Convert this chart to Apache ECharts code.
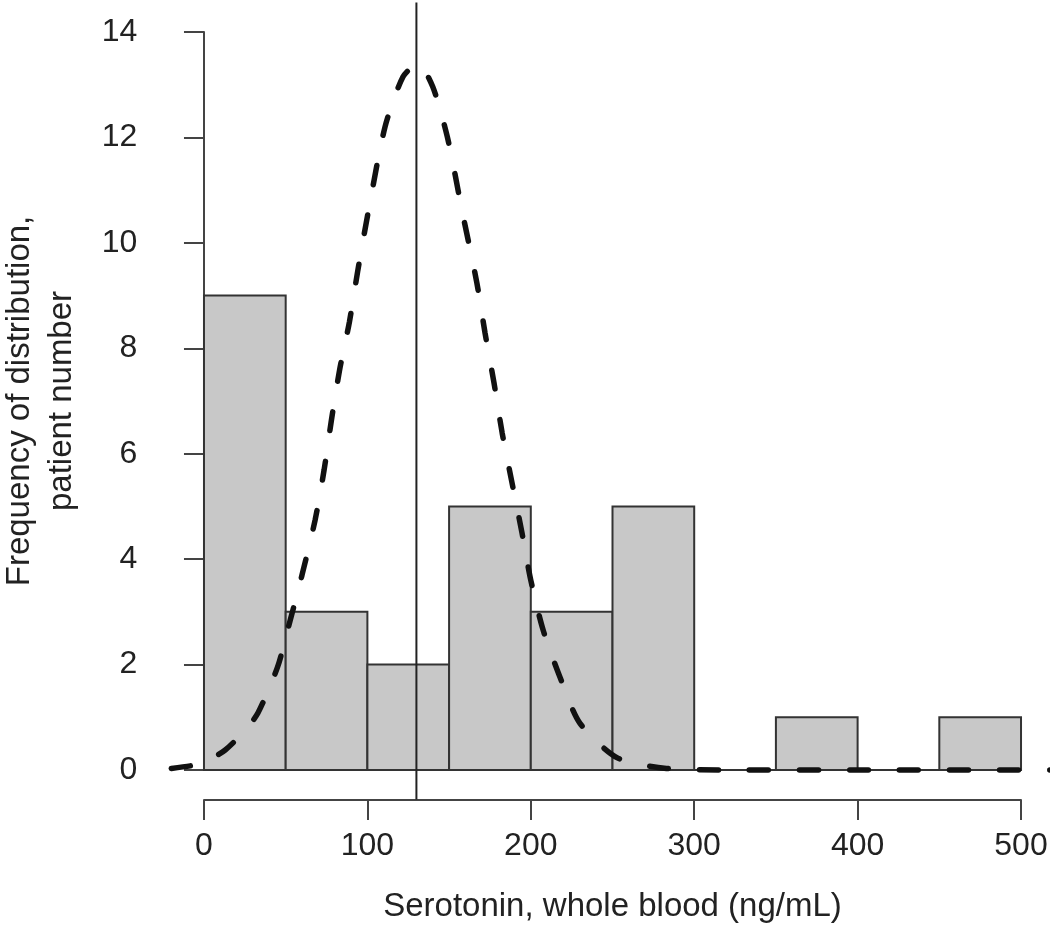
<!DOCTYPE html>
<html>
<head>
<meta charset="utf-8">
<script src="https://cdn.jsdelivr.net/npm/echarts@6/dist/echarts.min.js"></script>
<style>
html,body{margin:0;padding:0;background:#fff;}
#chart{width:1050px;height:929px;}
</style>
</head>
<body>
<div id="chart"></div>
<script>
// Histogram bins (ng/mL) and patient counts
const binStart = [0, 50, 100, 150, 200, 250, 300, 350, 400, 450];
const binEnd   = [50, 100, 150, 200, 250, 300, 350, 400, 450, 500];
const counts   = [9, 3, 2, 5, 3, 5, 0, 1, 0, 1];

// Dashed fitted curve
const curveX = [-20, -8, 0, 13, 25, 33, 45, 52, 60, 68, 73.5, 78, 83, 89, 94, 100, 110.8, 121.8, 131, 140, 149, 158, 167, 172, 177.5, 182.5, 188.5, 194.6, 200, 207.5, 218, 230, 253, 283, 320, 400, 520];
const curveY = [0.03, 0.08, 0.14, 0.38, 0.75, 1.08, 1.95, 2.75, 3.7, 4.74, 5.69, 6.64, 7.59, 8.5, 9.45, 10.5, 12.2, 13.15, 13.4, 12.96, 12.0, 10.6, 9.24, 8.29, 7.34, 6.39, 5.45, 4.5, 3.6, 2.66, 1.75, 0.89, 0.23, 0.03, 0, 0, 0];

// Vertical reference line
const refX = 130;
const refY = [-0.56, 14.56];

// Axis ticks
const xTicks = [0, 100, 200, 300, 400, 500];
const yTicks = [0, 2, 4, 6, 8, 10, 12, 14];

const FONT = '"Liberation Sans", Arial, Helvetica, sans-serif';
const TXT = '#222';
const AX = '#444';

const chart = echarts.init(document.getElementById('chart'), null, {renderer: 'canvas'});

const option = {
  animation: false,
  backgroundColor: '#fff',
  grid: [
    {left: 171.3, right: -3.7, top: 32, bottom: 159, containLabel: false, outerBoundsMode: 'none'},
    {left: 204, right: 29, top: 32, bottom: 129, containLabel: false, outerBoundsMode: 'none'}
  ],
  xAxis: [
    {
      type: 'value', gridIndex: 0, min: -20, max: 520,
      axisLine: {show: false}, axisTick: {show: false}, axisLabel: {show: false}, splitLine: {show: false},
      name: 'Serotonin, whole blood (ng/mL)',
      nameLocation: 'middle', nameGap: 120,
      nameTextStyle: {fontFamily: FONT, fontSize: 33, color: TXT}
    },
    {
      type: 'value', gridIndex: 1, min: xTicks[0], max: xTicks[xTicks.length - 1], interval: 100,
      axisLine: {show: true, lineStyle: {color: AX, width: 2}},
      axisTick: {show: true, inside: false, length: 20, lineStyle: {color: AX, width: 2}},
      axisLabel: {show: true, margin: 30, fontFamily: FONT, fontSize: 32, color: TXT},
      splitLine: {show: false}
    }
  ],
  yAxis: [
    {
      type: 'value', gridIndex: 0, min: yTicks[0], max: yTicks[yTicks.length - 1], interval: 2,
      axisLine: {show: true, lineStyle: {color: AX, width: 2}},
      axisTick: {show: true, inside: false, length: 20, lineStyle: {color: AX, width: 2}},
      axisLabel: {show: true, margin: 34, fontFamily: FONT, fontSize: 32, color: TXT},
      splitLine: {show: false},
      name: 'Frequency of distribution,\npatient number',
      nameLocation: 'middle', nameGap: 88, nameRotate: 90,
      nameTextStyle: {fontFamily: FONT, fontSize: 33, color: TXT, lineHeight: 42, align: 'center'}
    },
    {type: 'value', gridIndex: 1, show: false, min: 0, max: 1}
  ],
  series: [
    {
      type: 'custom',
      xAxisIndex: 0, yAxisIndex: 0,
      data: counts.map((c, i) => [binStart[i], binEnd[i], c]),
      renderItem: function (params, api) {
        const p0 = api.coord([api.value(0), api.value(2)]);
        const p1 = api.coord([api.value(1), 0]);
        return {
          type: 'rect',
          shape: {x: p0[0], y: p0[1], width: p1[0] - p0[0], height: p1[1] - p0[1]},
          style: {fill: '#c8c8c8', stroke: '#333', lineWidth: 2}
        };
      },
      z: 1
    },
    {
      type: 'line',
      xAxisIndex: 0, yAxisIndex: 0,
      data: refY.map(y => [refX, y]),
      symbol: 'none',
      clip: false,
      lineStyle: {color: '#222', width: 2},
      z: 2
    },
    {
      type: 'line',
      xAxisIndex: 0, yAxisIndex: 0,
      data: curveX.map((x, i) => [x, curveY[i]]),
      symbol: 'none',
      smooth: 0.25,
      clip: false,
      lineStyle: {color: '#111', width: 5.5, type: [19, 31], cap: 'round'},
      z: 3
    }
  ]
};
chart.setOption(option);
</script>
</body>
</html>
